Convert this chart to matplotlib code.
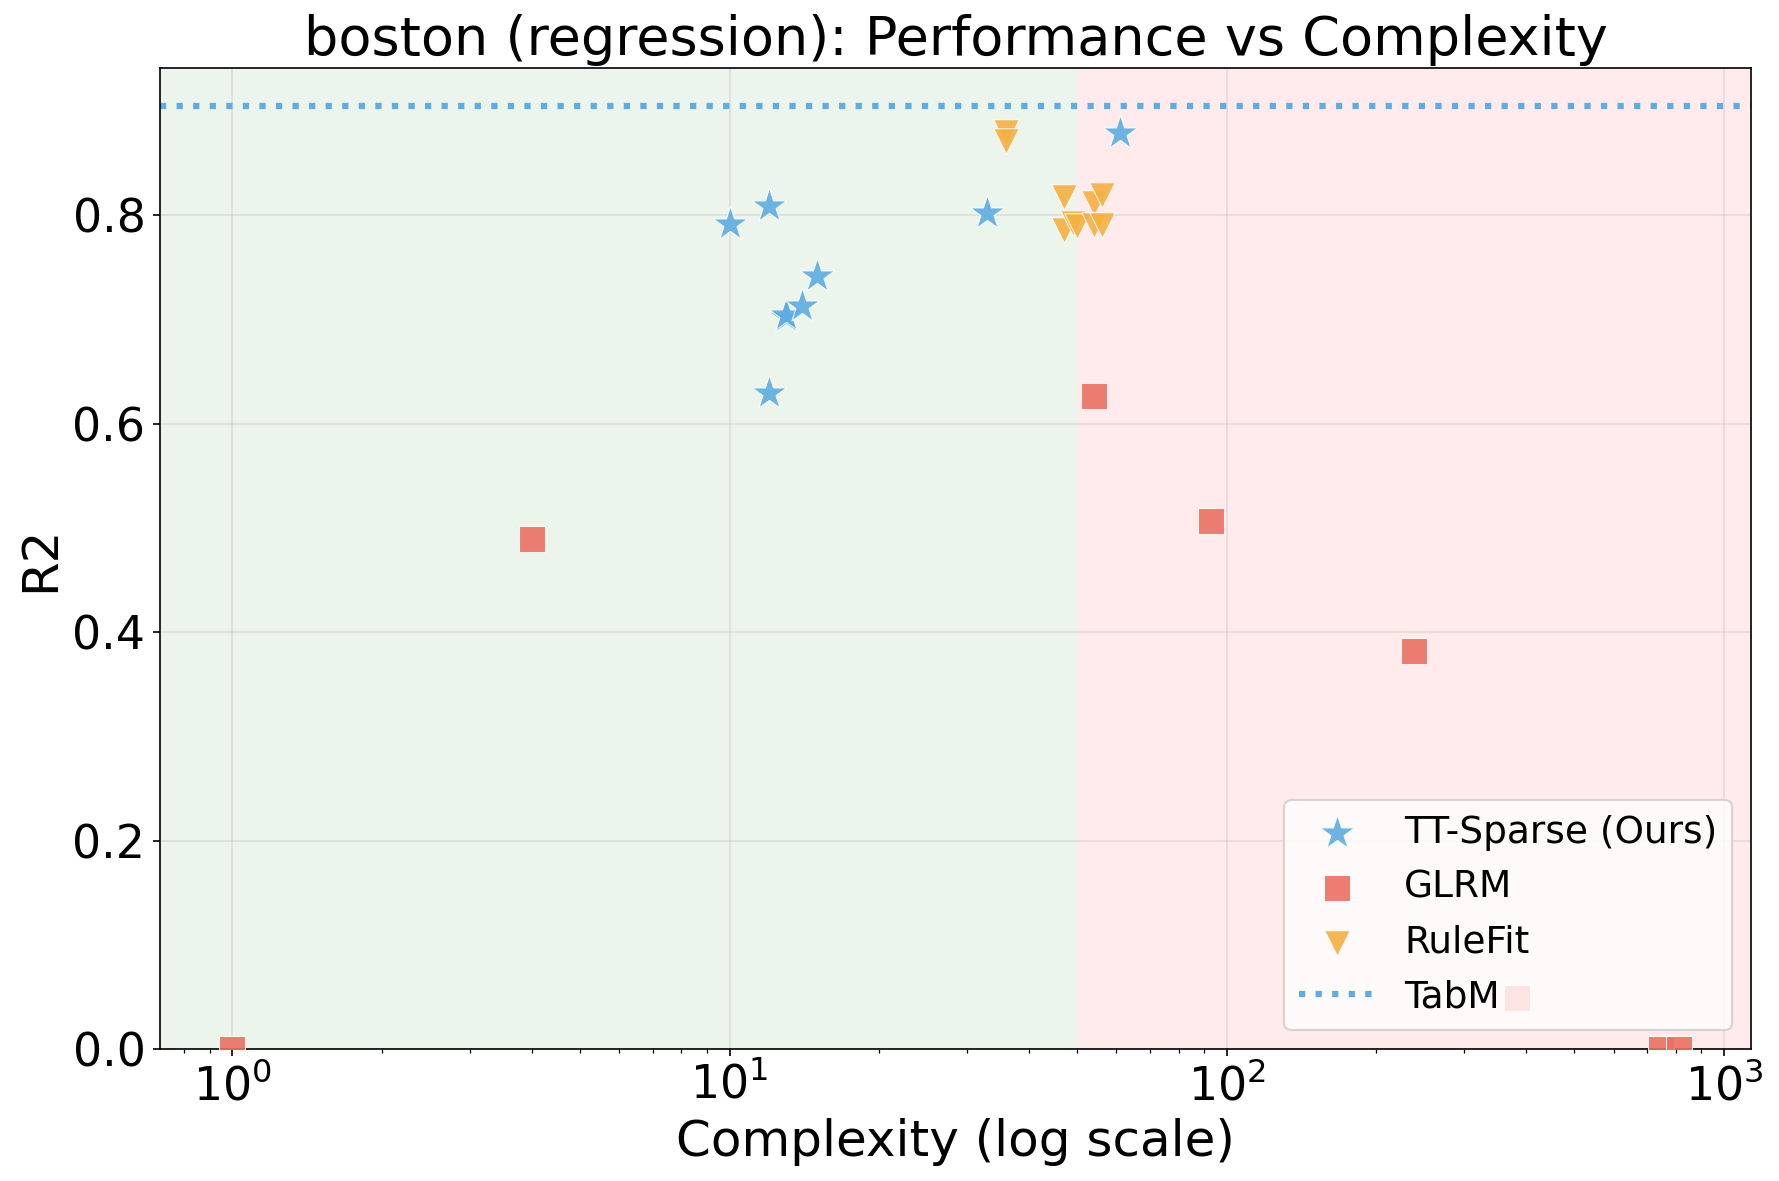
import matplotlib
matplotlib.use("Agg")
import matplotlib.pyplot as plt

# TT-Sparse (Ours)
tt_x = [10, 12, 12, 13, 13, 14, 15, 33, 61]
tt_y = [0.792, 0.809, 0.630, 0.703, 0.704, 0.713, 0.742, 0.802, 0.879]
# GLRM
glrm_x = [1, 4, 54, 93, 238, 383, 746, 811]
glrm_y = [0.0, 0.489, 0.627, 0.507, 0.382, 0.049, 0.0, 0.0]
# RuleFit
rf_x = [36, 36, 47, 47, 49, 50, 54, 54, 56, 56]
rf_y = [0.880, 0.871, 0.818, 0.786, 0.793, 0.790, 0.812, 0.791, 0.820, 0.791]
# TabM reference
tabm_y = 0.905
threshold = 50

fig = plt.figure(figsize=(1779/150, 1181/150), dpi=150)
ax = fig.add_axes([160/1779, 1 - 1049/1181, (1751-160)/1779, (1049-68)/1181])

ax.scatter(tt_x, tt_y, marker='*', s=300, color='#5DADE2', alpha=0.9,
           edgecolors='white', linewidths=0.5, label='TT-Sparse (Ours)', zorder=3)
ax.scatter(glrm_x, glrm_y, marker='s', s=150, color='#EC7063', alpha=0.9,
           edgecolors='white', linewidths=0.5, label='GLRM', zorder=3)
ax.scatter(rf_x, rf_y, marker='v', s=150, color='#F5B041', alpha=0.9,
           edgecolors='white', linewidths=0.5, label='RuleFit', zorder=3)
ax.axhline(tabm_y, color='#5DADE2', linestyle=':', linewidth=3, label='TabM', zorder=2)

ax.set_xscale('log')
ax.autoscale(enable=True, axis='x')
ax.set_ylim(0, 0.9415)
xl = ax.get_xlim()
ax.axvspan(xl[0], threshold, color='green', alpha=0.08, zorder=0, lw=0)
ax.axvspan(threshold, xl[1], color='red', alpha=0.08, zorder=0, lw=0)
ax.set_xlim(xl)

ax.grid(True, alpha=0.3)
ax.set_title('boston (regression): Performance vs Complexity', fontsize=26)
ax.set_xlabel('Complexity (log scale)', fontsize=24)
ax.set_ylabel('R2', fontsize=24)
ax.tick_params(axis='both', labelsize=22)
ax.legend(loc='lower right', fontsize=18)

fig.savefig('out.png', dpi=150)
